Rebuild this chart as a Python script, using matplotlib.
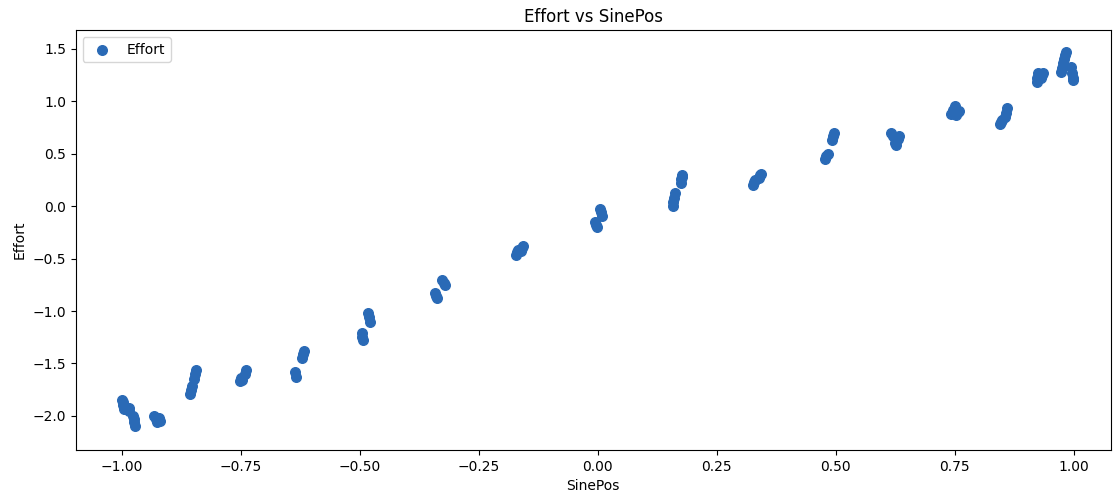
import matplotlib
matplotlib.use("Agg")
import matplotlib.pyplot as plt

# sine position vs. measured effort, read per sample
sine_pos = [
    -0.999, -0.998, -0.997, -0.996, -0.986, -0.984, -0.976, -0.975, -0.974, -0.973,
    -0.932, -0.929, -0.926, -0.922, -0.920,
    -0.856, -0.855, -0.852, -0.848, -0.846, -0.845,
    -0.752, -0.750, -0.748, -0.742, -0.740,
    -0.636, -0.635, -0.622, -0.620, -0.618,
    -0.496, -0.495, -0.494, -0.482, -0.480, -0.478,
    -0.342, -0.340, -0.338, -0.327, -0.324, -0.322,
    -0.172, -0.170, -0.168, -0.162, -0.160, -0.158,
    -0.006, -0.004, -0.002, 0.004, 0.006, 0.008,
    0.158, 0.159, 0.160, 0.162, 0.174, 0.175, 0.176, 0.178,
    0.326, 0.328, 0.330, 0.338, 0.340, 0.342,
    0.478, 0.480, 0.483, 0.493, 0.495, 0.497,
    0.616, 0.620, 0.624, 0.626, 0.630, 0.634,
    0.742, 0.746, 0.750, 0.752, 0.756, 0.760,
    0.846, 0.848, 0.850, 0.856, 0.858, 0.860,
    0.922, 0.924, 0.926, 0.932, 0.934, 0.936,
    0.974, 0.976, 0.978, 0.980, 0.982, 0.984, 0.994, 0.996, 0.998, 0.999,
]
effort = [
    -1.85, -1.87, -1.90, -1.93, -1.92, -1.95, -2.00, -2.03, -2.06, -2.10,
    -2.00, -2.03, -2.06, -2.02, -2.05,
    -1.79, -1.75, -1.71, -1.65, -1.60, -1.56,
    -1.67, -1.64, -1.66, -1.60, -1.56,
    -1.58, -1.63, -1.45, -1.41, -1.38,
    -1.21, -1.25, -1.28, -1.02, -1.06, -1.10,
    -0.83, -0.86, -0.88, -0.70, -0.73, -0.75,
    -0.47, -0.44, -0.42, -0.43, -0.40, -0.38,
    -0.15, -0.18, -0.20, -0.03, -0.06, -0.09,
    0.00, 0.04, 0.08, 0.12, 0.22, 0.26, 0.30, 0.28,
    0.20, 0.23, 0.25, 0.27, 0.30, 0.31,
    0.45, 0.48, 0.50, 0.63, 0.67, 0.70,
    0.70, 0.67, 0.60, 0.58, 0.64, 0.67,
    0.88, 0.92, 0.95, 0.87, 0.90, 0.91,
    0.78, 0.80, 0.82, 0.85, 0.89, 0.93,
    1.18, 1.22, 1.27, 1.22, 1.25, 1.27,
    1.28, 1.32, 1.36, 1.40, 1.44, 1.47, 1.33, 1.27, 1.22, 1.20,
]

fig = plt.figure(figsize=(11.13, 4.95), dpi=100)
ax = fig.add_axes([0.068, 0.091, 0.930, 0.848])
ax.scatter(sine_pos, effort, s=48, color="#2a6ab6", label="Effort")
ax.set_xlim(-1.097, 1.078)
ax.set_ylim(-2.324, 1.676)
ax.set_title("Effort vs SinePos")
ax.set_xlabel("SinePos")
ax.set_ylabel("Effort")
ax.legend(loc="upper left")
fig.savefig("out.png", dpi=100)
